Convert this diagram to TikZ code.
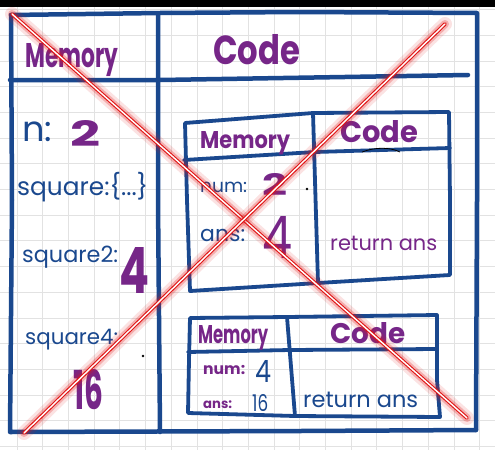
\documentclass[tikz,border=0pt]{standalone}
\usepackage{fontspec}
\setmainfont{Poppins}
\usepackage{graphicx}
\definecolor{inkblue}{RGB}{26,72,142}
\definecolor{inkpurple}{RGB}{118,38,136}
\definecolor{gridc}{RGB}{226,226,226}
\definecolor{xred}{RGB}{225,20,20}
\tikzset{
  frame/.style={draw=inkblue, line width=4.5pt, line cap=round, line join=round},
  innerbox/.style={draw=inkblue, line width=3.8pt, line cap=round, line join=round},
  txt/.style={inner sep=0pt, anchor=west},
  pur/.style={txt, text=inkpurple, font=\bfseries},
  purthin/.style={txt, text=inkpurple},
  blu/.style={txt, text=inkblue},
  glow/.style={draw=xred, line cap=round},
}
\newcommand{\fitw}[2]{\resizebox{#1pt}{!}{#2}}
\newcommand{\fitwh}[3]{\resizebox{#1pt}{#2pt}{#3}}
\begin{document}
\begin{tikzpicture}[x=1pt,y=-1pt]
\useasboundingbox (0,0) rectangle (495,450);
\fill[white] (0,0) rectangle (495,450);
% grid
\foreach \i in {0,...,19} \draw[gridc, line width=0.8pt] ({17+\i*25.7},0) -- ({17+\i*25.7},450);
\foreach \j in {0,...,17} \draw[gridc, line width=0.8pt] (0,{9.5+\j*25.7}) -- (495,{9.5+\j*25.7});
\fill[black] (0,0) rectangle (495,7);

% outer frame
\draw[frame] (11,15) -- (160,13) -- (300,12) -- (477,13) -- (477,200) -- (476,430);
\draw[frame] (11,15) -- (12,200) -- (10,432) -- (300,431) -- (476,430);
\draw[frame] (10,80) -- (160,80) -- (468,75);
\draw[frame] (158,15) -- (158,200) -- (160,432);

% inner box 1
\draw[innerbox] (185,123) -- (313,113) -- (449,112) -- (450,200) -- (450,275) -- (318,283) -- (190,291) -- (187,200) -- cycle;
\draw[innerbox] (184,160) -- (315,152) -- (450,148);
\draw[innerbox] (313,113) -- (318,283);
\draw[black, line width=0.8pt] (362,152) .. controls (375,147) and (390,147) .. (400,152);

% inner box 2
\draw[innerbox] (190,318) -- (287,317) -- (437,315) -- (437,380) -- (440,417) -- (295,416) -- (188,413) -- (189,360) -- cycle;
\draw[innerbox] (188,352) -- (290,350) -- (437,349);
\draw[innerbox] (287,317) -- (295,416);

% dots
\fill[black] (143,356) circle (1.4pt);
\fill[black] (307,189) circle (1.4pt);

% texts: main
\node[pur, anchor=base west] (mainmem) at (25,67) {\fitwh{93}{24}{Memory}};
\node[pur, anchor=base west] (maincode) at (213,64) {\fitwh{87}{30}{Code}};
\node[blu] (nlab) at (22,132) {\fitw{30}{n:}};
\node[pur] (nval) at (70,133) {\fitwh{30}{26}{2}};
\node[blu] (sqlab) at (17,187) {\fitw{131}{square:\{...\}}};
\node[blu] (sq2lab) at (22,257) {\fitw{96}{square2:}};
\node[pur] (sq2val) at (119,270) {\fitwh{30}{46}{4}};
\node[blu] (sq4lab) at (25,340) {\fitw{93}{square4:}};
\node[pur] (sq4val) at (73,390) {\fitwh{30}{40}{16}};

% texts: inner 1
\node[pur, anchor=base west] (amem) at (200,148) {\fitwh{90}{17}{Memory}};
\node[pur, anchor=base west] (acode) at (340,142) {\fitwh{78}{22}{Code}};
\node[blu] (anumlab) at (200,187) {\fitw{47}{num:}};
\node[pur] (anumval) at (262,184) {\fitwh{25}{22}{2}};
\node[blu] (aanslab) at (200,235) {\fitw{45}{ans:}};
\node[purthin] (aansval) at (262,237) {\fitwh{30}{42}{4}};
\node[purthin] (aret) at (330,243) {\fitw{107}{return ans}};

% texts: inner 2
\node[pur, anchor=base west] (bmem) at (198,343) {\fitwh{70}{18}{Memory}};
\node[pur, anchor=base west] (bcode) at (330,343) {\fitwh{75}{21}{Code}};
\node[pur] (bnumlab) at (203,370) {\fitw{42}{num:}};
\node[blu] (bnumval) at (255,371) {\fitwh{16}{22}{4}};
\node[pur] (banslab) at (203,405) {\fitw{29}{ans:}};
\node[blu] (bansval) at (252,403) {\fitwh{16}{17}{16}};
\node[blu] (bret) at (303,400) {\fitw{115}{return ans}};

% red X
\coordinate (xa1) at (12,14);
\coordinate (xa2) at (467,418);
\coordinate (xb1) at (445,24);
\coordinate (xb2) at (24,433);
\foreach \p/\q in {xa1/xa2, xb1/xb2}{
  \draw[glow, opacity=0.12, line width=14pt] (\p) -- (\q);
  \draw[glow, opacity=0.25, line width=8pt] (\p) -- (\q);
  \draw[glow, line width=3.6pt] (\p) -- (\q);
  \draw[white, line width=1.4pt, line cap=round] (\p) -- (\q);
}
\end{tikzpicture}
\end{document}
